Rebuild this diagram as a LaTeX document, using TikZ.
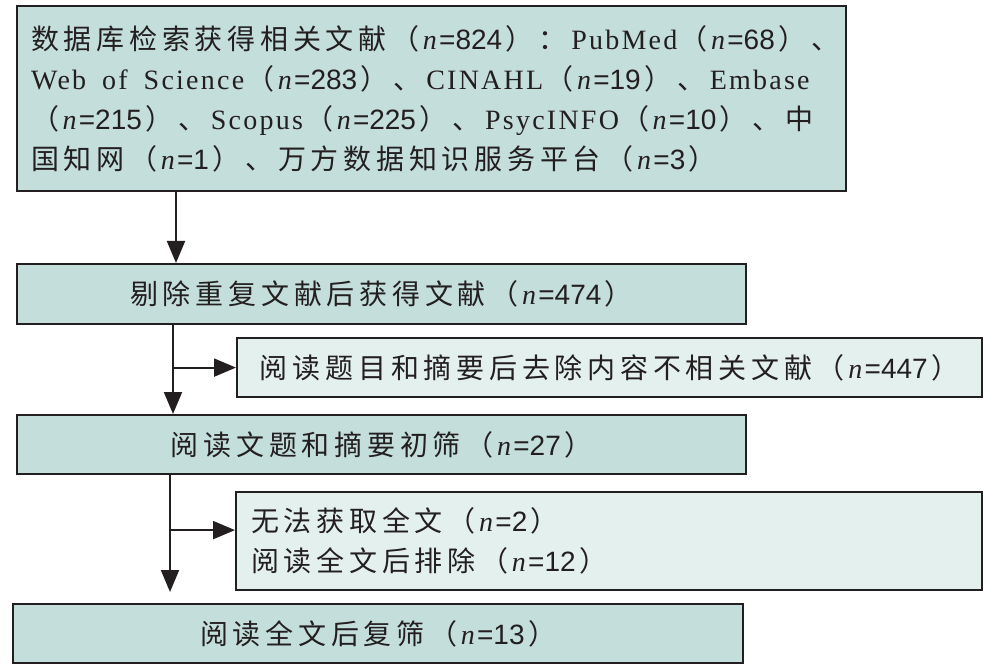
\documentclass[tikz,border=0pt]{standalone}
\usepackage{fontspec}
\setmainfont{Liberation Serif}[LetterSpace=8]
\newfontfamily\cjk{Noto Sans CJK SC}[LetterSpace=17]
\newfontfamily\numf{Liberation Sans}
\usetikzlibrary{arrows.meta}
\definecolor{boxfill}{HTML}{C4DEDB}
\definecolor{sidefill}{HTML}{E4F0EE}
\definecolor{ink}{HTML}{231F20}
\newcommand\cnt[1]{（\kern3.5pt\textrm{\textit{n}}{\numf =#1}\kern3.5pt）}
\newcommand\en[1]{\textrm{\spaceskip=16pt #1}}
\begin{document}
\begin{tikzpicture}[x=1pt,y=-1pt,
	every node/.style={draw=ink,line width=2.2pt,text=ink,inner sep=0pt,anchor=north west,
		font=\fontsize{28}{40}\selectfont\cjk},
	mainbox/.style={fill=boxfill},
	sidebox/.style={fill=sidefill},
	arr/.style={draw=ink,line width=2pt,-{Triangle[length=22pt,width=18pt]}}]
\useasboundingbox (0,0) rectangle (996,671);
\node[mainbox,minimum width=829pt,minimum height=185pt,text width=801pt,align=left] (search) at (16,5)
	{数据库检索获得相关文献\cnt{824}：\en{PubMed}\cnt{68}、\\
	 \en{Web of Science}\cnt{283}、\en{CINAHL}\cnt{19}、\en{Embase}\\
	 \cnt{215}、\en{Scopus}\cnt{225}、\en{PsycINFO}\cnt{10}、中\\
	 国知网\cnt{1}、万方数据知识服务平台\cnt{3}};
\node[mainbox,minimum width=729pt,minimum height=60pt] (dedup) at (16,263)
	{剔除重复文献后获得文献\cnt{474}};
\node[sidebox,minimum width=745pt,minimum height=59pt] (title) at (236,337)
	{阅读题目和摘要后去除内容不相关文献\cnt{447}};
\node[mainbox,minimum width=729pt,minimum height=59pt] (screen) at (16,414)
	{阅读文题和摘要初筛\cnt{27}};
\node[sidebox,minimum width=746pt,minimum height=98pt,text width=716pt,align=left] (fulltext) at (235,491)
	{无法获取全文\cnt{2}\\阅读全文后排除\cnt{12}};
\node[mainbox,minimum width=730pt,minimum height=59pt] (full) at (12,603)
	{阅读全文后复筛\cnt{13}};
% connectors
\path ([xshift=157pt]dedup.south west) coordinate (trunk2)
	([xshift=154pt]screen.south west) coordinate (trunk3)
	([yshift=11pt]fulltext.west) coordinate (branch3);
\draw[arr] ([xshift=160pt]search.south west) -- ([xshift=160pt]dedup.north west);
\draw[arr] (trunk2) -- (trunk2 |- screen.north);
\draw[arr] (trunk2 |- title.west) -- (title.west);
\draw[arr,shorten >=11pt] (trunk3) -- (trunk3 |- full.north);
\draw[arr] (trunk3 |- branch3) -- (branch3);
\end{tikzpicture}
\end{document}
